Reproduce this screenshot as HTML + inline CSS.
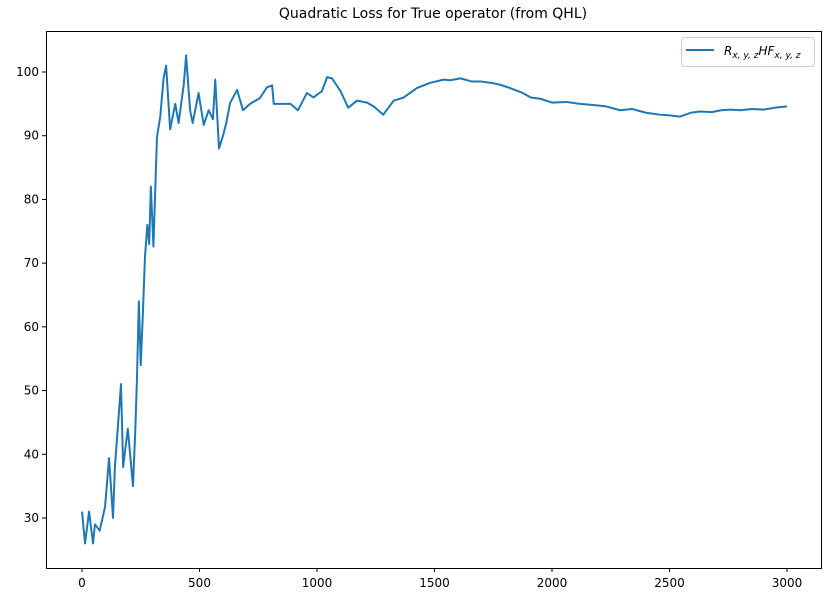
<!DOCTYPE html>
<html><head><meta charset="utf-8"><style>
body{margin:0;background:#fff;font-family:"Liberation Sans","DejaVu Sans",sans-serif}
svg text{font-family:"DejaVu Sans","Liberation Sans",sans-serif}
</style></head><body>
<svg id="chart" width="834" height="603" xmlns="http://www.w3.org/2000/svg">
<rect width="834" height="603" fill="#fff"/>
<text x="433" y="18" font-size="14" text-anchor="middle">Quadratic Loss for True operator (from QHL)</text>
<g id="plot"></g>
<rect x="46.5" y="31.5" width="775" height="537" fill="none" stroke="#000" stroke-width="1"/>
<g>
<rect x="681.5" y="37.5" width="133" height="29" rx="3" fill="#fff" stroke="#ccc"/>
<line x1="686" y1="50" x2="714" y2="50" stroke="#1f77b4" stroke-width="2"/>
<text x="724" y="55" font-size="12" font-style="italic">R<tspan font-size="9" dy="3">x, y, z</tspan><tspan dy="-3">HF</tspan><tspan font-size="9" dy="3">x, y, z</tspan></text>
</g>
</svg>
<script>
const xTicks=[0,500,1000,1500,2000,2500,3000];
const yTicks=[30,40,50,60,70,80,90,100];
const xs=[0,13,30,47,55,75,98,115,132,140,166,175,195,217,227,234,242,250,259,268,278,286,293,304,319,333,347,358,375,397,411,433,443,460,471,496,518,539,557,567,583,600,614,630,660,685,715,757,787,809,816,830,887,919,957,985,1021,1043,1064,1100,1133,1170,1213,1241,1282,1326,1369,1426,1482,1539,1567,1610,1660,1700,1740,1780,1820,1870,1910,1950,2000,2060,2120,2180,2230,2290,2340,2400,2460,2500,2545,2590,2630,2680,2720,2760,2800,2850,2900,2950,3000];
const ys=[31,26,31,26,29,28,31.7,39.4,30,38,51,38,44,35,44,52,64,54,62,71,76,73,82,72.6,89.8,93,99,101,91,95,92,98,102.6,94,92,96.7,91.7,94,92.6,98.8,88,90,92,95.1,97.2,94,95,95.9,97.6,97.9,95,95,95,94,96.7,96,97,99.2,99,97,94.4,95.5,95.2,94.6,93.3,95.5,96,97.5,98.3,98.8,98.7,99,98.5,98.5,98.3,98,97.5,96.8,96,95.8,95.2,95.3,95,94.8,94.6,94,94.2,93.6,93.3,93.2,93,93.6,93.8,93.7,94,94.1,94,94.2,94.1,94.4,94.6];
const X=v=>82+v*0.235, Y=v=>72+(100-v)*6.371;
const NS="http://www.w3.org/2000/svg", g=document.getElementById('plot');
function mk(t,a){const e=document.createElementNS(NS,t);for(const k in a)e.setAttribute(k,a[k]);g.appendChild(e);return e;}
xTicks.forEach(v=>{
 const l=mk('line',{x1:X(v),x2:X(v),y1:568,y2:572,stroke:'#000'});
 
 
 const t=mk('text',{x:X(v),y:587,'font-size':12,'text-anchor':'middle'});t.textContent=v;
 
 
});
yTicks.forEach(v=>{
 const l=mk('line',{x1:42,x2:46,y1:Y(v),y2:Y(v),stroke:'#000'});
 
 
 const t=mk('text',{x:39,y:Y(v)+4,'font-size':12,'text-anchor':'end'});t.textContent=v;
 
 
});
const p=mk('polyline',{points:xs.map((x,i)=>X(x)+','+Y(ys[i])).join(' '),fill:'none',stroke:'#1f77b4','stroke-width':2,'stroke-linejoin':'round'});


</script>
</body></html>
